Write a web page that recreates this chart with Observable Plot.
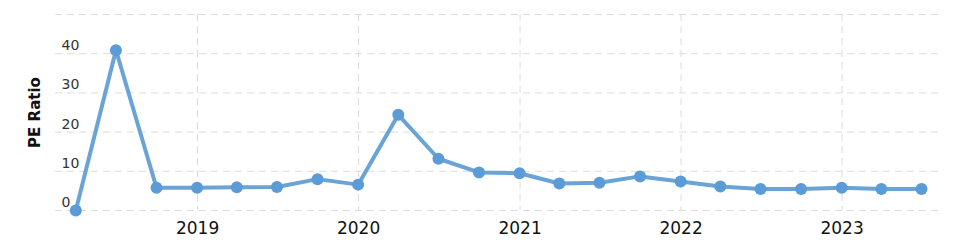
<!DOCTYPE html>
<html><head><meta charset="utf-8">
<script src="https://cdn.jsdelivr.net/npm/d3@7"></script>
<script src="https://cdn.jsdelivr.net/npm/@observablehq/plot@0.6"></script>
<style>body{margin:0;background:#fff}</style>
</head><body><div id="chart"></div>
<script>
const quarterEnds = [
  "2018-03-31","2018-06-30","2018-09-30","2018-12-31",
  "2019-03-31","2019-06-30","2019-09-30","2019-12-31",
  "2020-03-31","2020-06-30","2020-09-30","2020-12-31",
  "2021-03-31","2021-06-30","2021-09-30","2021-12-31",
  "2022-03-31","2022-06-30","2022-09-30","2022-12-31",
  "2023-03-31","2023-06-30"
];
const peRatio = [
  0.0, 40.9, 5.8, 5.8,
  5.9, 6.0, 8.0, 6.6,
  24.4, 13.2, 9.7, 9.5,
  6.9, 7.1, 8.7, 7.4,
  6.1, 5.5, 5.5, 5.8,
  5.5, 5.5
];
const yTickValues = [0, 10, 20, 30, 40];
const yGridValues = [0, 10, 20, 30, 40, 50];
const yearTickDates = ["2019-01-01","2020-01-01","2021-01-01","2022-01-01","2023-01-01"];
const yearTickLabels = ["2019","2020","2021","2022","2023"];
const yLabel = "PE Ratio";

const parse = d3.utcParse("%Y-%m-%d");
const data = quarterEnds.map((d, i) => ({date: parse(d), pe: peRatio[i]}));
const yearDates = yearTickDates.map(parse);

const gridColor = "#dcdcdc";
const dash = "7,5";

const chart = Plot.plot({
  width: 965,
  height: 245,
  marginLeft: 55,
  marginRight: 25,
  marginTop: 14,
  marginBottom: 35,
  style: {fontFamily: "DejaVu Sans, Verdana, sans-serif", background: "#fff"},
  x: {type: "utc", domain: [parse("2018-02-13"), parse("2023-08-12")]},
  y: {domain: [0, 50]},
  marks: [
    Plot.ruleY(yGridValues, {stroke: gridColor, strokeWidth: 1, strokeDasharray: dash}),
    Plot.ruleX(yearDates, {stroke: gridColor, strokeWidth: 1, strokeDasharray: dash}),
    Plot.axisY({
      ticks: yTickValues, tickSize: 0, tickPadding: 0, textAnchor: "start",
      dx: 6, dy: -8, fontSize: 14, fill: "#333", label: null
    }),
    Plot.axisX({
      ticks: yearDates, tickSize: 0, tickPadding: 11, fontSize: 17, fill: "#111",
      tickFormat: (d) => yearTickLabels[yearDates.findIndex(t => +t === +d)], label: null
    }),
    Plot.text([yLabel], {
      frameAnchor: "left", textAnchor: "middle", dx: -20, rotate: -90,
      fontSize: 15, fontWeight: "bold", fill: "#111"
    }),
    Plot.line(data, {x: "date", y: "pe", stroke: "#6aa3d6", strokeWidth: 4, strokeLinejoin: "round"}),
    Plot.dot(data, {x: "date", y: "pe", r: 6, fill: "#5b9bd8", stroke: "none"})
  ]
});
document.getElementById("chart").appendChild(chart);
</script>
</body></html>
